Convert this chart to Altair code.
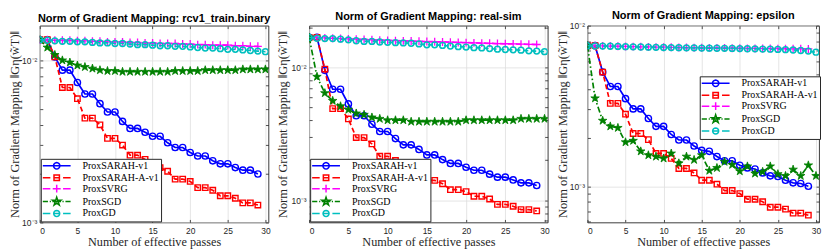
import math
import altair as alt
import pandas as pd

series = ["ProxSARAH-v1", "ProxSARAH-A-v1", "ProxSVRG", "ProxSGD", "ProxGD"]
colors = ["#0000FF", "#FF0000", "#FF00FF", "#008000", "#00BFBF"]
passes = list(range(31))
x_ticks = [0, 5, 10, 15, 20, 25, 30]
titles = ["Norm of Gradient Mapping: rcv1_train.binary",
          "Norm of Gradient Mapping: real-sim",
          "Norm of Gradient Mapping: epsilon"]

# ---- rcv1_train.binary ----
rcv1_sarah = [0.0134, 0.0134, 0.0105, 0.0087, 0.0087, 0.0073, 0.0062, 0.0062, 0.0054, 0.0048,
              0.0048, 0.0042, 0.0038, 0.0038, 0.0036, 0.0034, 0.0034, 0.0031, 0.0029, 0.0029,
              0.0027, 0.00257, 0.00257, 0.0024, 0.0023, 0.0023, 0.00218, 0.0021, 0.0021, 0.00199]
rcv1_sarah_a = [0.0134, 0.0134, 0.0105, 0.0068, 0.0068, 0.0058, 0.0044, 0.0044, 0.0040, 0.0033,
                0.0033, 0.0030, 0.0026, 0.0026, 0.00245, 0.00218, 0.00218, 0.00207, 0.00185, 0.00185,
                0.00179, 0.00164, 0.00164, 0.00158, 0.00146, 0.00146, 0.00141, 0.00132, 0.00132, 0.00128]
rcv1_svrg = [0.0134, 0.0134, 0.0133, 0.0133, 0.0133, 0.0132, 0.0132, 0.0131, 0.0131, 0.0130,
             0.0130, 0.0130, 0.0129, 0.0129, 0.0128, 0.0128, 0.0127, 0.0127, 0.0127, 0.0126,
             0.0126, 0.0125, 0.0125, 0.0124, 0.0124, 0.0124, 0.0123, 0.0123, 0.0122, 0.0122]
rcv1_sgd = [0.0134, 0.0120, 0.0108, 0.0100, 0.0097, 0.0093, 0.0091, 0.0089, 0.0087, 0.0086,
            0.0086, 0.0085, 0.0085, 0.0085, 0.0085, 0.0085, 0.0085, 0.0085, 0.0086, 0.0086,
            0.0086, 0.0086, 0.0087, 0.0087, 0.0087, 0.0087, 0.0087, 0.0088, 0.0088, 0.0088, 0.0088]
rcv1_gd = [0.0134, 0.0133, 0.0132, 0.0131, 0.0131, 0.0130, 0.0130, 0.0129, 0.0128, 0.0128,
           0.0127, 0.0127, 0.0126, 0.0125, 0.0125, 0.0124, 0.0123, 0.0123, 0.0122, 0.0122,
           0.0121, 0.0120, 0.0119, 0.0119, 0.0118, 0.0117, 0.0117, 0.0116, 0.0115, 0.0114, 0.0113]

# ---- real-sim ----
realsim_sarah = [0.0168, 0.0168, 0.0095, 0.00684, 0.00684, 0.0053, 0.00432, 0.00432, 0.00373, 0.00329,
                 0.00329, 0.00291, 0.00261, 0.00261, 0.00241, 0.00219, 0.00219, 0.00202, 0.00189, 0.00189,
                 0.00177, 0.00168, 0.00168, 0.00157, 0.00149, 0.00149, 0.00142, 0.00135, 0.00135, 0.00129]
realsim_sarah_a = [0.0168, 0.0168, 0.0097, 0.00489, 0.00489, 0.00409, 0.00296, 0.00296, 0.00265, 0.00214,
                   0.00214, 0.00199, 0.00171, 0.00171, 0.00163, 0.00141, 0.00141, 0.00133, 0.00120, 0.00120,
                   0.00116, 0.00107, 0.00107, 0.00102, 0.00093, 0.00093, 0.00090, 0.00085, 0.00085, 0.00083]
realsim_svrg = [0.0168, 0.01673, 0.01665, 0.01655, 0.01646, 0.01637, 0.01628, 0.0162, 0.01611, 0.01602,
                0.01594, 0.01588, 0.01582, 0.01576, 0.0157, 0.01564, 0.01558, 0.01552, 0.01546, 0.0154,
                0.01534, 0.01528, 0.01522, 0.01516, 0.0151, 0.01505, 0.015, 0.01495, 0.0149, 0.01485]
realsim_sgd = [0.0168, 0.0085, 0.0064, 0.0056, 0.0051, 0.0048, 0.0045, 0.0044, 0.0042, 0.0041,
               0.0040, 0.0040, 0.0040, 0.0039, 0.0039, 0.0039, 0.0039, 0.0039, 0.0039, 0.0039,
               0.0040, 0.0040, 0.0040, 0.0040, 0.0040, 0.0040, 0.0040, 0.0041, 0.0041, 0.0041, 0.0041]
realsim_gd = [0.0168, 0.01655, 0.01646, 0.01646, 0.01628, 0.0161, 0.01585, 0.01568, 0.01568, 0.01551,
              0.01543, 0.01534, 0.01526, 0.01518, 0.01501, 0.01477, 0.01477, 0.01461, 0.01445, 0.0143,
              0.01422, 0.01407, 0.01399, 0.01384, 0.01369, 0.01362, 0.01354, 0.01347, 0.01332, 0.01325, 0.01311]

# ---- epsilon ----
eps_sarah = [0.0075, 0.0075, 0.00514, 0.00418, 0.00418, 0.00351, 0.00303, 0.00303, 0.00264, 0.00236,
             0.00236, 0.0021, 0.00194, 0.00194, 0.00178, 0.00167, 0.00165, 0.00153, 0.00144, 0.00144,
             0.00135, 0.0013, 0.00128, 0.00121, 0.00116, 0.00115, 0.00109, 0.00105, 0.00104, 0.001]
eps_sarah_a = [0.0075, 0.0075, 0.00514, 0.00328, 0.00328, 0.00281, 0.00213, 0.00213, 0.00195, 0.0016,
               0.0016, 0.00149, 0.00129, 0.00129, 0.00121, 0.00109, 0.00109, 0.00103, 0.00094, 0.00094,
               0.0009, 0.00083, 0.00083, 0.0008, 0.00074, 0.00074, 0.00072, 0.00068, 0.00068, 0.00066]
eps_svrg = [0.0075, 0.0075, 0.00748, 0.00746, 0.00744, 0.00742, 0.0074, 0.00738, 0.00737, 0.00735,
            0.00734, 0.00733, 0.00731, 0.0073, 0.00729, 0.00728, 0.00727, 0.00726, 0.00725, 0.00724,
            0.00723, 0.00722, 0.00721, 0.0072, 0.0072, 0.00719, 0.00718, 0.00717, 0.00717, 0.00716]
eps_sgd = [0.0075, 0.00353, 0.00256, 0.00236, 0.00231, 0.00188, 0.00192, 0.00165, 0.00156, 0.00153,
           0.00149, 0.0016, 0.00139, 0.00153, 0.00146, 0.00156, 0.00125, 0.0013, 0.00142, 0.00136,
           0.00124, 0.00133, 0.0012, 0.00123, 0.00133, 0.00119, 0.00116, 0.00127, 0.00116, 0.00135, 0.00116]
eps_gd = [0.0075, 0.00748, 0.00746, 0.00744, 0.00742, 0.0074, 0.00738, 0.00736, 0.00734, 0.00733,
          0.00731, 0.0073, 0.00729, 0.00728, 0.00727, 0.00725, 0.00724, 0.00723, 0.00722, 0.00721,
          0.0072, 0.00718, 0.00717, 0.00715, 0.00713, 0.00711, 0.00708, 0.00705, 0.007, 0.00694, 0.00683]

panel_data = [
    [rcv1_sarah, rcv1_sarah_a, rcv1_svrg, rcv1_sgd, rcv1_gd],
    [realsim_sarah, realsim_sarah_a, realsim_svrg, realsim_sgd, realsim_gd],
    [eps_sarah, eps_sarah_a, eps_svrg, eps_sgd, eps_gd],
]
y_domains = [[0.001, 0.01637], [0.00068, 0.0206], [0.000595, 0.01]]

# ---------- styling / layout ----------
H = 198
widths = [230, 240, 233]
title_x = [-25, -26.5, -25]
INK = "#262626"
SERIF = "Liberation Serif"
SANS = "Liberation Sans"


def poly(points):
    return "M" + "L".join(f"{x:.4f},{y:.4f}" for x, y in points) + "Z"


def star_pts(R, ratio=0.382):
    pts = []
    for k in range(10):
        a = math.radians(-90 + 36 * k)
        r = R if k % 2 == 0 else R * ratio
        pts.append((r * math.cos(a), r * math.sin(a)))
    return pts


def circle_pts(r, n=16):
    return [(r * math.cos(2 * math.pi * k / n), r * math.sin(2 * math.pi * k / n)) for k in range(n)]


STAR = poly(star_pts(1.0))
PLUS = "M-1,0L1,0M0,-1L0,1"

# legend glyphs (1 unit = 4 px with symbolSize 64): a 28 px line styled like the
# series with the series marker in its middle
dash_seg = "M-3.5,0L-1.6,0M1.6,0L3.5,0"
dashdot_seg = "M-3.5,0L-2.2,0M-1.75,0L-1.45,0M1.45,0L1.75,0M2.2,0L3.5,0"
legend_paths = [
    "M-3.5,0L3.5,0" + poly(circle_pts(0.8)),
    dash_seg + "M-0.68,0L0.68,0" + "M-0.68,-0.68L0.68,-0.68L0.68,0.68L-0.68,0.68Z",
    dash_seg + "M-1,0L1,0M0,-1L0,1",
    dashdot_seg + "M-1.1,0L1.1,0" + poly(star_pts(1.1)),
    dash_seg + "M-0.75,0L0.75,0" + poly(circle_pts(0.75)),
]

dashes = [None, [5, 3], [5, 3], [6, 2.5, 1.5, 2.5], [5, 3]]
marker_specs = [
    dict(shape="circle", size=40, filled=False, strokeWidth=1.4),
    dict(shape="square", size=30, filled=False, strokeWidth=1.4),
    dict(shape=PLUS, size=64, filled=False, strokeWidth=1.3),
    dict(shape=STAR, size=80, filled=True, strokeWidth=0.8),
    dict(shape="circle", size=34, filled=False, strokeWidth=1.5),
]

ytitle = "Norm of Gradient Mapping \u2016G\u03b7(w\u0303T)\u2016"
major_test = "abs(log(datum.value)/LN10 - round(log(datum.value)/LN10)) < 0.001"
label_expr = ("abs(datum.value-0.01) < 1e-9 ? '10\u207b\u00b2' : "
              "abs(datum.value-0.001) < 1e-10 ? '10\u207b\u00b3' : ''")


def y_tick_values(lo, hi):
    vals = []
    for e in (-4, -3, -2):
        for m in range(1, 10):
            v = round(m * 10 ** e, 9)
            if lo * 0.999 <= v <= hi * 1.001:
                vals.append(v)
    return vals


def make_panel(i):
    w = widths[i]
    lo, hi = y_domains[i]
    yvals = y_tick_values(lo, hi)
    xs = alt.Scale(domain=[0, 30.4], nice=False, zero=False)
    ys = alt.Scale(type="log", domain=[lo, hi], nice=False)

    rows = []
    for s, vals in zip(series, panel_data[i]):
        for k, v in enumerate(vals):
            rows.append({"x": passes[k], "v": v, "s": s})
    df = pd.DataFrame(rows)
    base = alt.Chart(df)

    tick_common = dict(labels=False, domain=False, grid=False, title=None, ticks=True,
                       tickSize=3, tickColor=INK, tickWidth=0.8)
    ax_x_main = alt.Axis(orient="bottom", values=x_ticks, ticks=False, domain=False, grid=True,
                         gridColor="#dedede", gridWidth=0.8, labelFont=SANS, labelFontSize=8.5,
                         labelColor=INK, labelPadding=4, title="Number of effective passes",
                         titleFont=SERIF, titleFontSize=12.3, titleFontWeight="normal",
                         titleColor=INK, titlePadding=1)
    ax_y_main = alt.Axis(orient="left", values=yvals, ticks=False, domain=False, grid=True,
                         gridColor="#dedede", gridWidth=0.8,
                         gridOpacity={"condition": {"test": major_test, "value": 1}, "value": 0},
                         labelExpr=label_expr, labelOverlap=False, labelFont=SANS,
                         labelFontSize=8.5, labelColor=INK, labelPadding=3,
                         title=ytitle, titleFont=SERIF, titleFontSize=12.5,
                         titleFontWeight="normal", titleColor=INK, titleX=title_x[i],
                         titleY=H / 2, titleBaseline="middle")
    ax_x_in_bottom = alt.Axis(orient="top", offset=-H, values=x_ticks, **tick_common)
    ax_y_in_left = alt.Axis(orient="right", offset=-w, values=yvals, labelOverlap=False, **tick_common)
    ax_x_in_top = alt.Axis(orient="bottom", offset=-H, values=x_ticks, **tick_common)
    ax_y_in_right = alt.Axis(orient="left", offset=-w, values=yvals, labelOverlap=False, **tick_common)

    layers = []
    for j, s in enumerate(series):
        sub = base.transform_filter(alt.datum.s == s)
        lkw = dict(color=colors[j], strokeWidth=1.7, clip=True)
        if dashes[j] is not None:
            lkw["strokeDash"] = dashes[j]
        if j == 0:
            lx, ly = ax_x_main, ax_y_main
        elif j == 1:
            lx, ly = ax_x_in_top, ax_y_in_right
        else:
            lx, ly = None, None
        line = sub.mark_line(**lkw).encode(
            x=alt.X("x:Q", scale=xs, axis=lx),
            y=alt.Y("v:Q", scale=ys, axis=ly),
            order="x:Q",
        )
        ms = marker_specs[j]
        pkw = dict(shape=ms["shape"], size=ms["size"], filled=ms["filled"], opacity=1,
                   strokeWidth=ms["strokeWidth"], clip=True, stroke=colors[j])
        if ms["filled"]:
            pkw["fill"] = colors[j]
        if j == 0:
            px, py = ax_x_in_bottom, ax_y_in_left
        else:
            px, py = None, None
        pts = sub.mark_point(**pkw).encode(
            x=alt.X("x:Q", scale=xs, axis=px),
            y=alt.Y("v:Q", scale=ys, axis=py),
        )
        layers += [line, pts]

    if i < 2:
        pos = dict(orient="bottom-left", offset=1)
    else:
        pos = dict(orient="none", legendX=w - 120, legendY=51)
    leg = alt.Legend(title=None, fillColor="white", strokeColor=INK, padding=2,
                     rowPadding=-2, symbolSize=64, symbolStrokeWidth=1.5,
                     symbolOffset=9, labelOffset=21,
                     labelFont=SERIF, labelFontSize=10, labelColor="black",
                     labelExpr="datum.label + '\u00a0\u00a0\u00a0'", **pos)
    legend_layer = base.transform_filter("false").mark_point(filled=False, opacity=1).encode(
        x=alt.X("x:Q", scale=xs, axis=None),
        y=alt.Y("v:Q", scale=ys, axis=None),
        color=alt.Color("s:N", scale=alt.Scale(domain=series, range=colors), legend=leg),
        shape=alt.Shape("s:N", scale=alt.Scale(domain=series, range=legend_paths), legend=leg),
    )
    layers.append(legend_layer)

    return alt.layer(*layers).resolve_axis(x="independent", y="independent").properties(
        width=w, height=H,
        title=alt.TitleParams(titles[i], font=SANS, fontSize=11, fontWeight="bold",
                              color="black", offset=1, anchor="middle", frame="group"),
    )


chart = alt.hconcat(make_panel(0), make_panel(1), make_panel(2), spacing=5).resolve_scale(
    color="independent", shape="independent"
).properties(
    padding={"left": 0, "top": 0, "right": 0, "bottom": 1},
    background="white",
).configure_view(stroke=INK, strokeWidth=0.9)

chart.save("out.html", embed_options={"renderer": "svg", "actions": False})
